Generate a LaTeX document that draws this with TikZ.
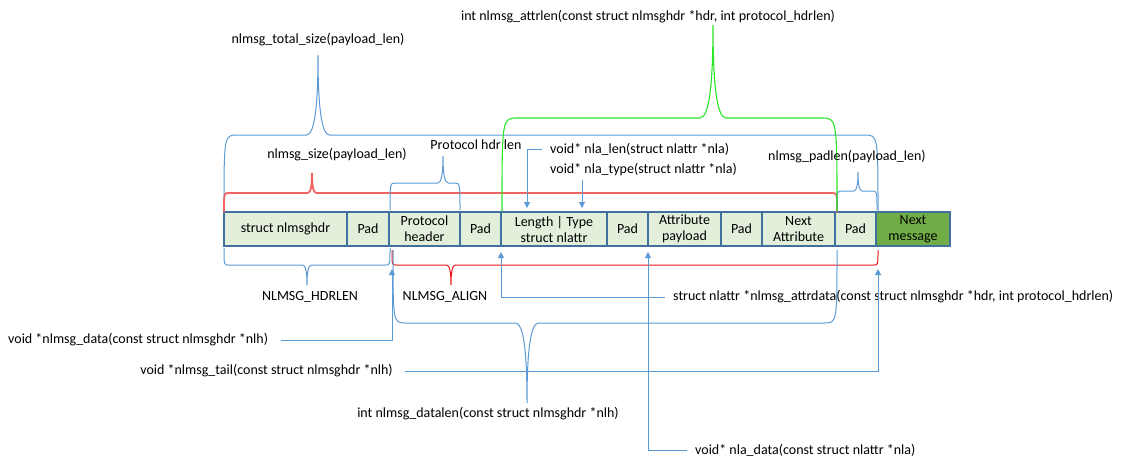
\documentclass[tikz,border=0pt]{standalone}
\usepackage{fontspec}
\setmainfont{Carlito}
\usetikzlibrary{positioning,arrows.meta}

\definecolor{cellfill}{HTML}{E2EFDA}
\definecolor{cellnext}{HTML}{70AD47}
\definecolor{cellline}{HTML}{41719C}
\definecolor{linkblue}{HTML}{5B9BD5}
\definecolor{sizered}{RGB}{240,100,100}
\definecolor{alignred}{RGB}{235,20,20}
\definecolor{attrgreen}{RGB}{40,230,40}

\tikzset{
  cell/.style={draw=cellline, fill=cellfill, line width=1.1pt, minimum height=34pt,
    inner sep=0pt, outer sep=0pt, align=center, font=\fontsize{14}{16}\selectfont},
  lbl/.style={inner sep=4pt, font=\fontsize{14}{16}\selectfont},
  link/.style={draw=linkblue, line width=1pt, -{Triangle[width=6pt,length=6pt]}},
  bluebrace/.style={draw=linkblue, line width=1pt},
}

% brace: style, x1, x2, yend, ybar, xtip, ytip
\newcommand{\capbrace}[7]{%
  \pgfmathsetmacro{\rr}{0.15*abs(#4-#5)+2}%
  \pgfmathsetmacro{\ww}{0.12*abs(#5-#7)+2}%
  \draw[#1] (#2,#4) .. controls (#2,#5) .. (#2+\rr,#5) -- (#6-\ww,#5)
    .. controls (#6-0.3*\ww,#5) and (#6,{#5+0.35*(#7-#5)}) .. (#6,#7)
    .. controls (#6,{#5+0.35*(#7-#5)}) and (#6+0.3*\ww,#5) .. (#6+\ww,#5)
    -- (#3-\rr,#5) .. controls (#3,#5) .. (#3,#4);
}

\begin{document}
\begin{tikzpicture}[x=1pt, y=-1pt]
  \path[fill=white, use as bounding box] (0,0) rectangle (1129,467);

  % message layout
  \node[cell, minimum width=123pt, anchor=north west] (hdr) at (224,212) {struct nlmsghdr};
  \node[cell, minimum width=42pt, right=0pt of hdr] (pad1) {Pad};
  \node[cell, minimum width=71pt, right=0pt of pad1] (phdr) {Protocol\\header};
  \node[cell, minimum width=41pt, right=0pt of phdr] (pad2) {Pad};
  \node[cell, minimum width=106pt, right=0pt of pad2] (lentype) {Length | Type\\struct nlattr};
  \node[cell, minimum width=41pt, right=0pt of lentype] (pad3) {Pad};
  \node[cell, minimum width=73pt, right=0pt of pad3] (apay) {Attribute\\payload};
  \node[cell, minimum width=41pt, right=0pt of apay] (pad4) {Pad};
  \node[cell, minimum width=73pt, right=0pt of pad4] (nattr) {Next\\Attribute};
  \node[cell, minimum width=41pt, right=0pt of nattr] (npad) {Pad};
  \node[cell, minimum width=74pt, right=0pt of npad, fill=cellnext] (nmsg) {Next\\message};

  % braces above
  \capbrace{bluebrace}{224}{878}{212}{135}{318}{55}
  \capbrace{draw=sizered, line width=1.8pt}{224}{837}{212}{193}{312}{173}
  \capbrace{bluebrace}{390}{460}{210}{183}{443}{156}
  \capbrace{bluebrace}{837}{877}{210}{191}{858}{172}
  \capbrace{draw=attrgreen, line width=1.1pt}{502}{837}{211}{118}{713}{25}

  % braces below
  \capbrace{bluebrace}{224}{390}{248}{265}{307}{285}
  \capbrace{draw=alignred, line width=1pt}{392}{878}{250}{265}{451}{285}
  \capbrace{bluebrace}{393}{837}{250}{323}{527}{403}
  \coordinate (hdrend) at (392,266);
  \coordinate (alignend) at (878,266);

  % labels
  \node[lbl] (attrlen) at (648,17) {int nlmsg\_attrlen(const struct nlmsghdr *hdr, int protocol\_hdrlen)};
  \node[lbl] (total) at (318,40) {nlmsg\_total\_size(payload\_len)};
  \node[lbl] (size) at (337,155) {nlmsg\_size(payload\_len)};
  \node[lbl] (phlen) at (476,145) {Protocol hdr len};
  \node[lbl, anchor=west] (nlalen) at (546,149) {void* nla\_len(struct nlattr *nla)};
  \node[lbl, anchor=west] (nlatype) at (546,170) {void* nla\_type(struct nlattr *nla)};
  \node[lbl] (padlen) at (847,157) {nlmsg\_padlen(payload\_len)};
  \node[lbl] (hdrlen) at (310,297) {NLMSG\_HDRLEN};
  \node[lbl] (align) at (445,297) {NLMSG\_ALIGN};
  \node[lbl, anchor=west] (attrdata) at (669,297) {struct nlattr *nlmsg\_attrdata(const struct nlmsghdr *hdr, int protocol\_hdrlen)};
  \node[lbl, anchor=west] (data) at (4,340) {void *nlmsg\_data(const struct nlmsghdr *nlh)};
  \node[lbl, anchor=east] (tail) at (397,371) {void *nlmsg\_tail(const struct nlmsghdr *nlh)};
  \node[lbl] (datalen) at (488,414) {int nlmsg\_datalen(const struct nlmsghdr *nlh)};
  \node[lbl, anchor=west] (nladata) at (691,450) {void* nla\_data(const struct nlattr *nla)};

  % pointers
  \draw[link, shorten >=4pt] ([xshift=-4pt]nlalen.west) -| ([xshift=-27pt]lentype.north);
  \draw[link, shorten >=4pt] ([xshift=36pt]nlatype.south west) -- ([xshift=36pt]nlatype.south west |- lentype.north);
  \draw[link, shorten >=6pt] ([xshift=-4pt]attrdata.west) -| (lentype.south west);
  \draw[link, shorten >=6pt] ([xshift=-4pt]nladata.west) -| (apay.south west);
  \draw[link, shorten >=3pt] ([xshift=9pt]data.east) -| (hdrend);
  \draw[link, shorten >=3pt] ([xshift=8pt]tail.east) -| (alignend);
\end{tikzpicture}
\end{document}
